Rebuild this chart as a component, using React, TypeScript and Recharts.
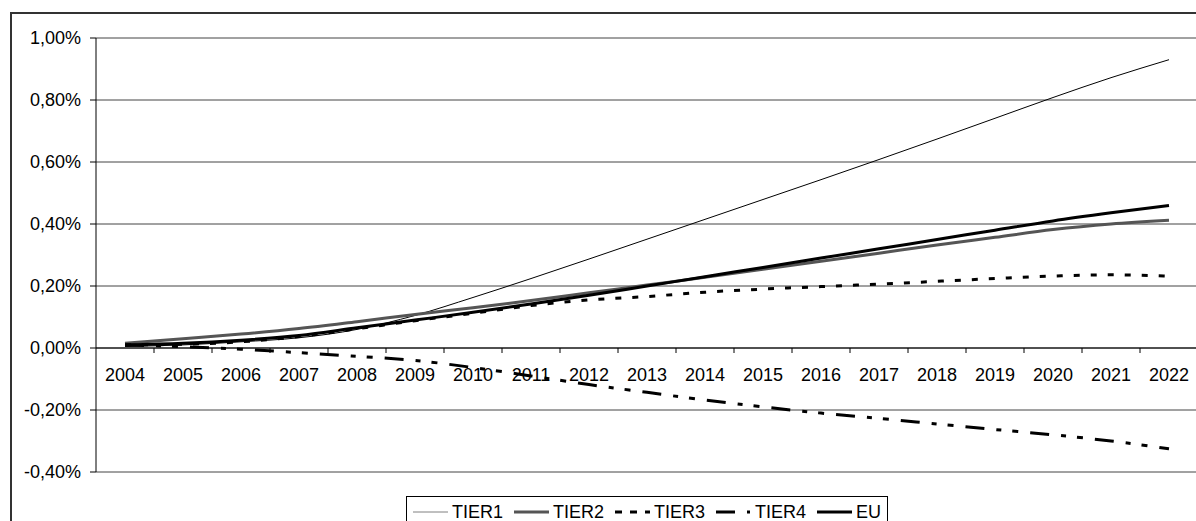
import React from 'react'
import { LineChart, Line, XAxis, YAxis, CartesianGrid, ReferenceLine, Legend } from 'recharts'

const years = ['2004', '2005', '2006', '2007', '2008', '2009', '2010', '2011', '2012', '2013', '2014', '2015', '2016', '2017', '2018', '2019', '2020', '2021', '2022']

// values in percent
const tier1 = [0.005, 0.01, 0.02, 0.033, 0.06, 0.105, 0.163, 0.224, 0.287, 0.351, 0.415, 0.479, 0.543, 0.608, 0.674, 0.741, 0.808, 0.872, 0.93]
const tier2 = [0.015, 0.03, 0.045, 0.063, 0.085, 0.108, 0.13, 0.153, 0.178, 0.203, 0.228, 0.254, 0.28, 0.306, 0.332, 0.357, 0.382, 0.4, 0.412]
const tier3 = [0.01, 0.012, 0.02, 0.037, 0.062, 0.088, 0.112, 0.137, 0.155, 0.166, 0.18, 0.19, 0.198, 0.206, 0.215, 0.224, 0.232, 0.236, 0.232]
const tier4 = [0.01, 0.004, -0.004, -0.015, -0.027, -0.04, -0.063, -0.09, -0.118, -0.143, -0.168, -0.19, -0.21, -0.227, -0.245, -0.263, -0.28, -0.3, -0.325]
const eu = [0.01, 0.015, 0.025, 0.04, 0.065, 0.09, 0.115, 0.142, 0.17, 0.2, 0.23, 0.26, 0.29, 0.32, 0.35, 0.38, 0.41, 0.436, 0.46]

const yTicks = [-0.4, -0.2, 0, 0.2, 0.4, 0.6, 0.8, 1.0]

const data = years.map((year, i) => ({
  year,
  TIER1: tier1[i],
  TIER2: tier2[i],
  TIER3: tier3[i],
  TIER4: tier4[i],
  EU: eu[i],
}))

const FONT = '"Liberation Sans", Arial, sans-serif'
const PLOT_TOP = 38
const PLOT_BOTTOM = 472
const HALF_BAND = 29
const ZERO_Y = PLOT_TOP + ((1.0 - 0) / (1.0 - -0.4)) * (PLOT_BOTTOM - PLOT_TOP)

const series = [
  { key: 'TIER1', stroke: '#000', legendStroke: '#808080', width: 1, dash: undefined, legendDash: undefined },
  { key: 'TIER2', stroke: '#555', legendStroke: '#555', width: 3, dash: undefined, legendDash: undefined },
  { key: 'TIER3', stroke: '#000', legendStroke: '#000', width: 3, dash: '6 11', legendDash: '7 8' },
  { key: 'TIER4', stroke: '#000', legendStroke: '#000', width: 3, dash: '19 12 5 11 6 12', legendDash: '19 12 3 20' },
  { key: 'EU', stroke: '#000', legendStroke: '#000', width: 3, dash: undefined, legendDash: undefined },
]

const fmtPct = (v: number) => v.toFixed(2).replace('.', ',') + '%'

function CategoryTick(props: any) {
  const { x, payload } = props
  return (
    <g>
      <line x1={x + HALF_BAND} x2={x + HALF_BAND} y1={ZERO_Y} y2={ZERO_Y + 5} stroke="#000" strokeWidth={1} />
      <text x={x} y={ZERO_Y + 20} dy="0.71em" textAnchor="middle" fontSize={18} fontFamily={FONT} fill="#000">
        {payload.value}
      </text>
    </g>
  )
}

function renderLegend() {
  return (
    <div
      style={{
        border: '1px solid #000',
        background: '#fff',
        padding: '5px 6px 10px 6px',
        display: 'flex',
        alignItems: 'center',
        fontFamily: FONT,
        fontSize: 18,
        lineHeight: '20px',
        whiteSpace: 'nowrap',
      }}
    >
      {series.map((s, i) => (
        <div key={s.key} style={{ display: 'flex', alignItems: 'center', marginRight: i < series.length - 1 ? 11 : 0 }}>
          <svg width={35} height={10} style={{ marginRight: 4 }}>
            <line x1={0} x2={35} y1={5} y2={5} stroke={s.legendStroke} strokeWidth={s.width} strokeDasharray={s.legendDash} />
          </svg>
          <span style={{ color: '#000' }}>{s.key}</span>
        </div>
      ))}
    </div>
  )
}

export default function App() {
  return (
    <div style={{ position: 'absolute', left: 0, top: 0, width: 1196, height: 521, overflow: 'hidden', background: '#fff' }}>
      <div
        style={{
          position: 'absolute',
          left: 10,
          top: 12,
          width: 1200,
          height: 540,
          border: '2px solid #333',
          boxSizing: 'border-box',
        }}
      />
      <div style={{ position: 'absolute', left: 0, top: 0 }}>
        <LineChart width={1200} height={521} data={data} margin={{ top: PLOT_TOP, right: 2, left: 10, bottom: 29 }}>
          <CartesianGrid horizontal vertical={false} stroke="#444" />
          <XAxis
            dataKey="year"
            height={20}
            padding={{ left: HALF_BAND, right: HALF_BAND }}
            axisLine={false}
            tickLine={false}
            tick={<CategoryTick />}
            interval={0}
          />
          <YAxis
            width={86}
            domain={[-0.4, 1.0]}
            ticks={yTicks}
            tickFormatter={fmtPct}
            allowDataOverflow
            stroke="#000"
            tickSize={6}
            tickMargin={9}
            tick={{ fontSize: 18, fill: '#000', fontFamily: FONT }}
          />
          <ReferenceLine y={0} stroke="#000" strokeWidth={1} />
          {series.map((s) => (
            <Line
              key={s.key}
              type="monotone"
              dataKey={s.key}
              stroke={s.stroke}
              strokeWidth={s.width}
              strokeDasharray={s.dash}
              dot={false}
              activeDot={false}
              isAnimationActive={false}
            />
          ))}
          <Legend
            layout="horizontal"
            verticalAlign="middle"
            align="center"
            content={renderLegend}
            wrapperStyle={{ left: 406, top: 496, width: 'auto', height: 'auto' }}
          />
        </LineChart>
      </div>
    </div>
  )
}
